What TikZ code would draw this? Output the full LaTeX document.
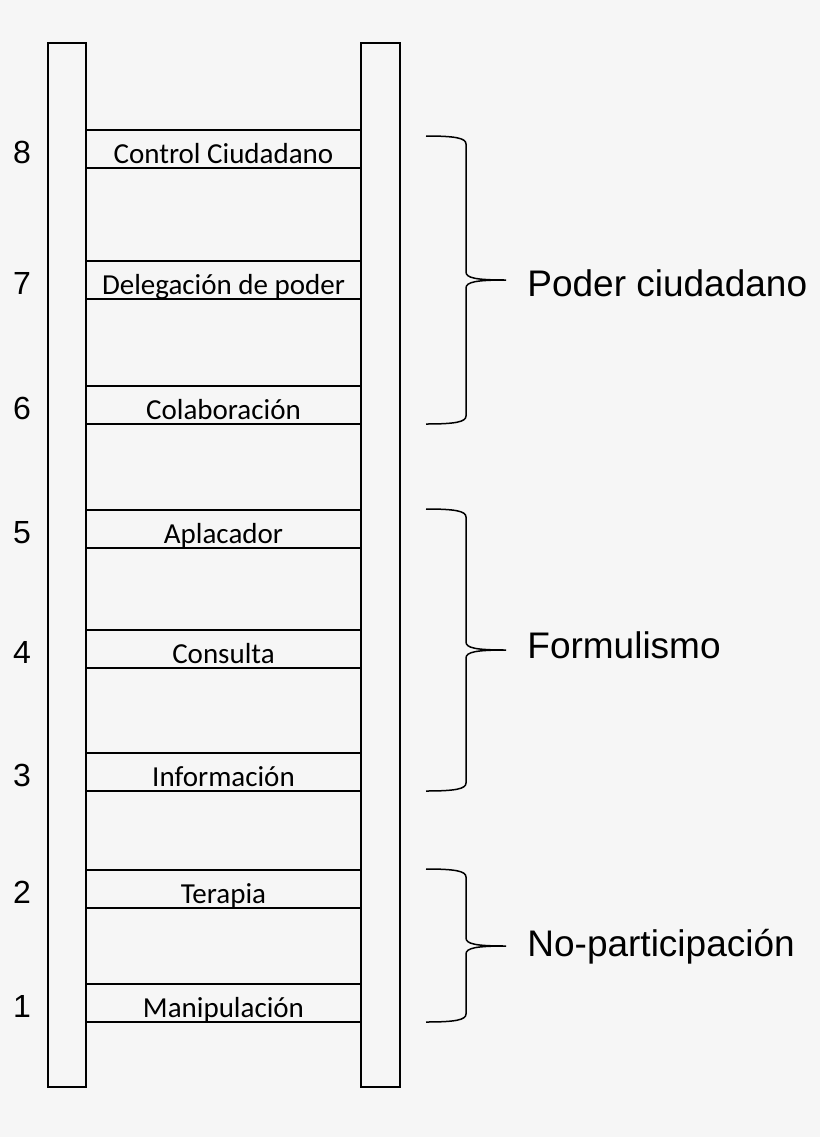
\documentclass[tikz,border=0pt]{standalone}
\usepackage{fontspec}
\setmainfont{Carlito}
\newfontfamily\armfont{Liberation Sans}
\definecolor{paper}{RGB}{246,246,246}

\begin{document}
\begin{tikzpicture}[x=0.5pt,y=-0.5pt,
rail/.style = {draw, line width=0.7pt, fill=paper},
rung/.style = {draw, line width=0.7pt,
     minimum width=137.5pt, minimum height=19pt, inner sep=0pt},
rung txt/.style = {font=\fontsize{14.5}{17}\selectfont, inner sep=0pt},
lvl num/.style = {font=\armfont\fontsize{16}{19}\selectfont, inner sep=0pt},
grp txt/.style = {font=\armfont\fontsize{18.5}{22}\selectfont, inner sep=0pt},
curly/.style = {draw, line width=0.75pt}]

\fill[paper] (0,0) rectangle (820,1137);
\useasboundingbox (0,0) rectangle (820,1137);

% rails
\draw[rail] (48,43) rectangle (86,1087);
\draw[rail] (361,43) rectangle (400,1087);

% rungs
\foreach \n/\y/\lab in {8/130/Control Ciudadano, 7/261/Delegación de poder,
    6/386/Colaboración, 5/510/Aplacador, 4/630/Consulta,
    3/753/Información, 2/870/Terapia, 1/984/Manipulación} {
      \node [rung] (r\n) at (223.5,\y+19) {};
      \node [rung txt, anchor=base] (l\n) at ([yshift=2.5pt]r\n.south) {\lab};
      \node [lvl num, anchor=base] (n\n) at (22,\y+33) {\n};
    }

% braces
\foreach \a/\m/\b/\t/\g in {136/280/424/296/Poder ciudadano,
    509/650/791/658/Formulismo, 869/946/1022/956/No-participación} {
      \draw[curly] (426,\a) .. controls (455,\a) and (466,\a+2) .. (466,\a+8)
        -- (466,\m-8) .. controls (466,\m-2) and (476,\m) .. (506,\m)
        .. controls (476,\m) and (466,\m+2) .. (466,\m+8)
        -- (466,\b-8) .. controls (466,\b-2) and (455,\b) .. (426,\b);
      \node [grp txt, anchor=base west] at (527,\t) {\g};
    }

\end{tikzpicture}
\end{document}
